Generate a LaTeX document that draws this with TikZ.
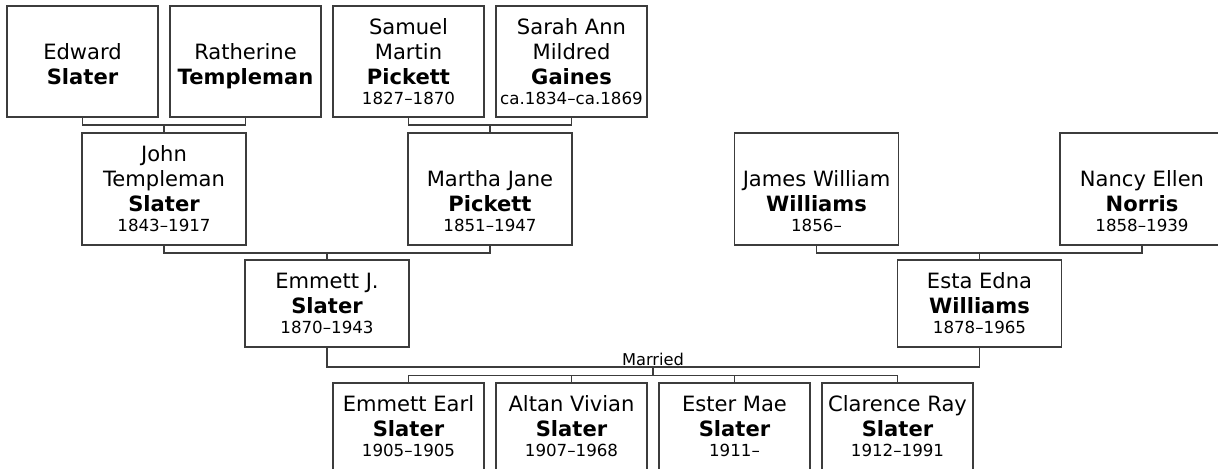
\documentclass[tikz,border=0pt]{standalone}
\usepackage{fontspec}
\setmainfont{DejaVu Sans}
\usetikzlibrary{positioning}
\definecolor{boxline}{HTML}{3C3C3C}
\definecolor{treeline}{HTML}{3C3C3C}
\newcommand{\yrs}[1]{{\fontsize{12.5}{15}\selectfont #1}}
% an empty line that keeps the height of a full one
\newcommand{\blankline}{\vphantom{Samuel}}
\tikzset{
  person/.style={draw=boxline, line width=1.1pt, align=center, inner sep=0pt,
    font=\fontsize{15.8}{18.75}\selectfont,
    execute at begin node={\rule{0pt}{16pt}}},
  % box sizes per generation
  topbox/.style={person, minimum width=113.25pt, minimum height=83.25pt},
  midbox/.style={person, minimum width=123pt, minimum height=84pt},
  lowbox/.style={person, minimum width=123pt, minimum height=65.25pt},
  kidbox/.style={person, minimum width=113.25pt, minimum height=65.25pt},
  link/.style={draw=treeline, line width=1.1pt},
  wedtext/.style={font=\fontsize{12.2}{14}\selectfont, inner sep=1pt},
}

\begin{document}
\begin{tikzpicture}[x=0.75pt,y=-0.75pt]
  \useasboundingbox (0,0) rectangle (1218,468);
  % great-grandparents
  \node[topbox] (edward)    at (82.5,61.5)  {\blankline\\Edward\\\textbf{Slater}\\[-3.75pt]\yrs{\vphantom{1}}};
  \node[topbox] (ratherine) at (245.5,61.5) {\blankline\\Ratherine\\\textbf{Templeman}\\[-3.75pt]\yrs{\vphantom{1}}};
  \node[topbox] (samuel)    at (408.5,61.5) {Samuel\\Martin\\\textbf{Pickett}\\[-3.75pt]\yrs{1827--1870}};
  \node[topbox] (sarah)     at (571.5,61.5) {Sarah Ann\\Mildred\\\textbf{Gaines}\\[-3.75pt]\yrs{ca.1834--ca.1869}};
  % grandparents
  \node[midbox] (john)   at (164,189)    {John\\Templeman\\\textbf{Slater}\\[-3.75pt]\yrs{1843--1917}};
  \node[midbox] (martha) at (490,189)    {\blankline\\Martha Jane\\\textbf{Pickett}\\[-3.75pt]\yrs{1851--1947}};
  \node[midbox] (james)  at (816.5,189)  {\blankline\\James William\\\textbf{Williams}\\[-3.75pt]\yrs{1856--}};
  \node[midbox] (nancy)  at (1142,189)   {\blankline\\Nancy Ellen\\\textbf{Norris}\\[-3.75pt]\yrs{1858--1939}};
  % parents
  \node[lowbox] (emmett) at (327,303.5)   {Emmett J.\\\textbf{Slater}\\[-3.75pt]\yrs{1870--1943}};
  \node[lowbox] (esta)   at (979.5,303.5) {Esta Edna\\\textbf{Williams}\\[-3.75pt]\yrs{1878--1965}};
  % children
  \node[kidbox] (earl)     at (408.5,426.5) {Emmett Earl\\\textbf{Slater}\\[-3.75pt]\yrs{1905--1905}};
  \node[kidbox] (altan)    at (571.5,426.5) {Altan Vivian\\\textbf{Slater}\\[-3.75pt]\yrs{1907--1968}};
  \node[kidbox] (ester)    at (734.5,426.5) {Ester Mae\\\textbf{Slater}\\[-3.75pt]\yrs{1911--}};
  \node[kidbox] (clarence) at (897.5,426.5) {Clarence Ray\\\textbf{Slater}\\[-3.75pt]\yrs{1912--1991}};

  % junctions
  \coordinate (j1) at (164,125);
  \coordinate (j2) at (490,125);
  \coordinate (j3) at (327,253);
  \coordinate (j4) at (979.5,253);
  \coordinate (wed) at (653,367);
  \coordinate (kids) at (653,375.5);

  \draw[link] (edward.south) |- (j1) -| (ratherine.south);
  \draw[link] (j1) -- (john.north);
  \draw[link] (samuel.south) |- (j2) -| (sarah.south);
  \draw[link] (j2) -- (martha.north);
  \draw[link] (john.south) |- (j3) -| (martha.south);
  \draw[link] (j3) -- (emmett.north);
  \draw[link] (james.south) |- (j4) -| (nancy.south);
  \draw[link] (j4) -- (esta.north);
  % the marriage and its children
  \draw[link] (emmett.south) |- (wed) -| (esta.south);
  \node[wedtext, above=0pt of wed] (wedlabel) {Married};
  \draw[link] (wed) -- (kids);
  \draw[link] (earl.north) |- (kids) -| (clarence.north);
  \draw[link] (altan.north) -- (altan.north |- kids);
  \draw[link] (ester.north) -- (ester.north |- kids);
\end{tikzpicture}
\end{document}
